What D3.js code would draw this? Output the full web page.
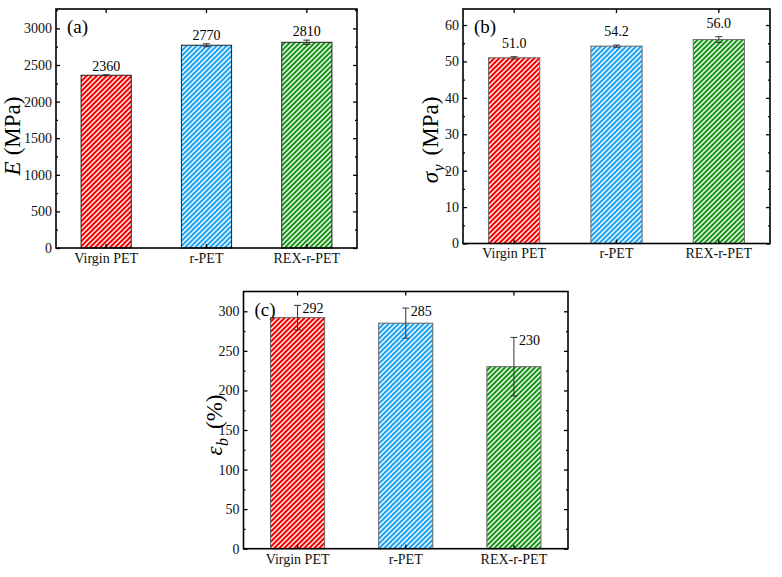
<!DOCTYPE html>
<html>
<head>
<meta charset="utf-8">
<script src="https://cdn.jsdelivr.net/npm/d3@7/dist/d3.min.js"></script>
<style>
  body { margin: 0; background: #fff; }
  svg { font-family: "Liberation Serif", "Times New Roman", serif; }
</style>
</head>
<body>
<div id="chart"></div>
<script>
// data
var categories = ["Virgin PET", "r-PET", "REX-r-PET"];
var barColors = ["#ff0000", "#1ea4f2", "#189818"];

var modulus = [2360, 2770, 2810];
var modulusErr = [8, 20, 30];
var modulusTicks = [0, 500, 1000, 1500, 2000, 2500, 3000];

var yieldStress = [51.0, 54.2, 56.0];
var yieldErr = [0.3, 0.3, 0.8];
var yieldTicks = [0, 10, 20, 30, 40, 50, 60];

var elongation = [292, 285, 230];
var elongationErr = [15.5, 19, 37];
var elongationTicks = [0, 50, 100, 150, 200, 250, 300];

var width = 782;
var height = 577;

var svg = d3
  .select("#chart")
  .append("svg")
  .attr("width", width)
  .attr("height", height);

// hatch patterns: white "/" stripes on the bar colour
var defs = svg.append("defs");
barColors.forEach((c, i) => {
  var p = defs
    .append("pattern")
    .attr("id", "hatch" + i)
    .attr("patternUnits", "userSpaceOnUse")
    .attr("width", 5)
    .attr("height", 5);
  p.append("rect").attr("width", 5).attr("height", 5).attr("fill", c);
  p.append("path")
    .attr("d", "M-1,6 L6,-1 M-1,1 L1,-1 M4,6 L6,4")
    .attr("stroke", "#fff")
    .attr("stroke-width", 1.4);
});

var panels = [
  {
    tag: "(a)", values: modulus, errs: modulusErr, ticks: modulusTicks,
    minorStep: 250, yMax: 3265, fmt: d3.format("d"),
    left: 56, right: 357, top: 9, bottom: 248,
    title: [["E", "italic"], ["(MPa)", ""]], titleX: 20, titleY: 136,
    labelSide: false, labelOff: -4, barStroke: "#222"
  },
  {
    tag: "(b)", values: yieldStress, errs: yieldErr, ticks: yieldTicks,
    minorStep: 5, yMax: 64.4, fmt: d3.format(".1f"),
    left: 463, right: 770, top: 9, bottom: 243.5,
    title: [["σ", "italic"], ["y", "sub"], ["(MPa)", ""]], titleX: 438, titleY: 140,
    labelSide: false, labelOff: -9, barStroke: "#666"
  },
  {
    tag: "(c)", values: elongation, errs: elongationErr, ticks: elongationTicks,
    minorStep: 25, yMax: 325, fmt: d3.format("d"),
    left: 243.5, right: 568, top: 291.5, bottom: 548.7,
    title: [["ε", "italic"], ["b", "sub"], ["(%)", ""]], titleX: 222, titleY: 425,
    labelSide: true, labelOff: 8, barStroke: "#666"
  }
];

panels.forEach(drawPanel);

function drawPanel(cfg) {
  var x = d3
    .scaleBand()
    .domain(categories)
    .range([cfg.left, cfg.right])
    .paddingInner(0.5)
    .paddingOuter(0.25);
  var y = d3
    .scaleLinear()
    .domain([0, cfg.yMax])
    .range([cfg.bottom, cfg.top]);

  var g = svg.append("g");
  var minor = d3.range(0, cfg.yMax, cfg.minorStep).filter((v) => cfg.ticks.indexOf(v) < 0);

  // bars
  g.selectAll("rect.bar")
    .data(cfg.values)
    .join("rect")
    .attr("class", "bar")
    .attr("x", (d, i) => x(categories[i]))
    .attr("width", x.bandwidth())
    .attr("y", (d) => y(d))
    .attr("height", (d) => y(0) - y(d))
    .attr("fill", (d, i) => `url(#hatch${i})`)
    .attr("stroke", cfg.barStroke)
    .attr("stroke-width", 1);

  // error bars
  var cap = 3.5;
  var cx = (i) => x(categories[i]) + x.bandwidth() / 2;
  var eb = g
    .selectAll("g.err")
    .data(cfg.values)
    .join("g")
    .attr("class", "err")
    .attr("stroke", "#333")
    .attr("stroke-width", 1);
  eb.append("line")
    .attr("x1", (d, i) => cx(i))
    .attr("x2", (d, i) => cx(i))
    .attr("y1", (d, i) => y(d - cfg.errs[i]))
    .attr("y2", (d, i) => y(d + cfg.errs[i]));
  eb.append("line")
    .attr("x1", (d, i) => cx(i) - cap)
    .attr("x2", (d, i) => cx(i) + cap)
    .attr("y1", (d, i) => y(d + cfg.errs[i]))
    .attr("y2", (d, i) => y(d + cfg.errs[i]));
  eb.append("line")
    .attr("x1", (d, i) => cx(i) - cap)
    .attr("x2", (d, i) => cx(i) + cap)
    .attr("y1", (d, i) => y(d - cfg.errs[i]))
    .attr("y2", (d, i) => y(d - cfg.errs[i]));

  // value labels
  g.selectAll("text.val")
    .data(cfg.values)
    .join("text")
    .attr("class", "val")
    .attr("font-size", 14)
    .attr("text-anchor", cfg.labelSide ? "start" : "middle")
    .attr("x", (d, i) => cx(i) + (cfg.labelSide ? 5 : 0))
    .attr("y", (d, i) => y(d + cfg.errs[i]) + cfg.labelOff)
    .text((d) => cfg.fmt(d));

  // axes
  g.append("g")
    .attr("transform", `translate(${cfg.left},0)`)
    .call(d3.axisLeft(y).tickValues(cfg.ticks).tickSize(-4).tickSizeOuter(0).tickPadding(4).tickFormat(d3.format("d")));
  g.append("g")
    .attr("transform", `translate(${cfg.left},0)`)
    .call(d3.axisLeft(y).tickValues(minor).tickSize(-2).tickSizeOuter(0).tickFormat(""));
  g.append("g")
    .attr("transform", `translate(${cfg.right},0)`)
    .call(d3.axisRight(y).tickValues(cfg.ticks).tickSize(-4).tickSizeOuter(0).tickFormat(""));
  g.append("g")
    .attr("transform", `translate(${cfg.right},0)`)
    .call(d3.axisRight(y).tickValues(minor).tickSize(-2).tickSizeOuter(0).tickFormat(""));
  g.append("g")
    .attr("transform", `translate(0,${cfg.bottom})`)
    .call(d3.axisBottom(x).tickSize(-4).tickSizeOuter(0).tickPadding(5));
  g.append("g")
    .attr("transform", `translate(0,${cfg.top})`)
    .call(d3.axisTop(x).tickSize(-4).tickSizeOuter(0).tickFormat(""));

  g.selectAll(".domain").remove();
  g.selectAll(".tick line").attr("stroke", "#000").attr("stroke-width", 1.3);
  g.selectAll(".tick text")
    .attr("font-family", "Liberation Serif")
    .attr("font-size", 14)
    .attr("fill", "#111");

  // frame
  g.append("rect")
    .attr("x", cfg.left)
    .attr("y", cfg.top)
    .attr("width", cfg.right - cfg.left)
    .attr("height", cfg.bottom - cfg.top)
    .attr("fill", "none")
    .attr("stroke", "#000")
    .attr("stroke-width", 1.6);

  // panel tag
  g.append("text")
    .attr("x", cfg.left + 11)
    .attr("y", cfg.top + 24)
    .attr("font-size", 19)
    .text(cfg.tag);

  // y title: pieces laid out one after another, then centred
  var tg = g
    .append("g")
    .attr("transform", `translate(${cfg.titleX},${cfg.titleY}) rotate(-90)`);
  var pos = 0;
  var pieces = cfg.title.map((p, k) => {
    var sub = p[1] == "sub";
    var ts = tg
      .append("text")
      .attr("font-size", sub ? 16 : 23)
      .attr("font-style", p[1] == "" ? "normal" : "italic")
      .attr("y", sub ? 6 : 0)
      .attr("x", pos)
      .text(p[0]);
    var next = cfg.title[k + 1];
    var gap = next && next[1] == "sub" ? 0.5 : sub ? 9 : 6;
    pos += ts.node().getComputedTextLength() + gap;
    return { el: ts, gap: gap };
  });
  pos -= pieces[pieces.length - 1].gap;
  pieces.forEach((p) => p.el.attr("x", +p.el.attr("x") - pos / 2));
}
</script>
</body>
</html>
